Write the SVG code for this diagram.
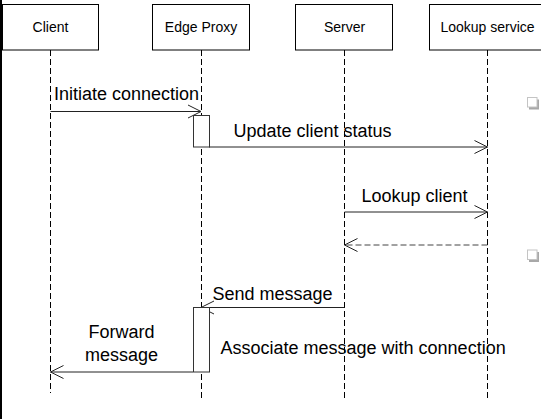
<svg xmlns="http://www.w3.org/2000/svg" width="541" height="419" viewBox="0 0 541 419">
<style>
.box{fill:#fff;stroke:#000;stroke-width:1}
.life{fill:none;stroke:#000;stroke-width:1;stroke-dasharray:6 3}
.lbl{font-family:"Liberation Sans",Arial,sans-serif;font-size:14px;fill:#000;text-anchor:middle}
.msg{font-family:"Liberation Sans",Arial,sans-serif;font-size:18px;fill:#000}
.ln{fill:none;stroke:#222;stroke-width:1}
.dash{stroke-dasharray:6 3;stroke:#444}
.act{fill:#fff;stroke:#333;stroke-width:1}
</style>
<defs>
<marker id="open" viewBox="-15 -8 17 16" refX="0" refY="0" markerWidth="17" markerHeight="16" markerUnits="userSpaceOnUse" orient="auto" overflow="visible">
<path d="M-13,-6.5 L0,0 L-13,6.5" fill="none" stroke="#222" stroke-width="1"/>
</marker>
</defs>
<rect x="0" y="0" width="541" height="419" fill="#fff"/>
<rect x="0" y="0" width="2" height="419" fill="#000"/>
<g id="client">
<rect class="box" x="2.5" y="4.5" width="96" height="45.5"/>
<text class="lbl" x="50.5" y="32">Client</text>
<line class="life" x1="50.5" y1="50" x2="50.5" y2="393"/>
</g>
<g id="edge-proxy">
<rect class="box" x="152.5" y="4.5" width="97" height="45.5"/>
<text class="lbl" x="201" y="32">Edge Proxy</text>
<line class="life" x1="201.5" y1="50" x2="201.5" y2="398"/>
</g>
<g id="server">
<rect class="box" x="295.5" y="4.5" width="97" height="45.5"/>
<text class="lbl" x="344.5" y="32">Server</text>
<line class="life" x1="344.5" y1="50" x2="344.5" y2="398"/>
</g>
<g id="lookup-service">
<rect class="box" x="429.5" y="4.5" width="117" height="45.5"/>
<text class="lbl" x="487.5" y="32">Lookup service</text>
<line class="life" x1="487.5" y1="50" x2="487.5" y2="398"/>
</g>
<g id="connectors">
<line class="ln" x1="50.5" y1="111.5" x2="201" y2="111.5" marker-end="url(#open)"/>
<line class="ln" x1="209" y1="147" x2="487.5" y2="147" marker-end="url(#open)"/>
<line class="ln" x1="344.5" y1="212" x2="487.5" y2="212" marker-end="url(#open)"/>
<line class="ln dash" x1="487.5" y1="245" x2="344.5" y2="245" marker-end="url(#open)"/>
<line class="ln" x1="344.5" y1="307.5" x2="201" y2="307.5" marker-end="url(#open)"/>
<line class="ln" x1="193" y1="372" x2="50.5" y2="372" marker-end="url(#open)"/>
</g>
<g id="activation-1">
<rect class="act" x="193.5" y="115.5" width="16" height="31.5"/>
</g>
<g id="activation-2">
<rect class="act" x="193.5" y="307.5" width="16" height="64.5"/>
</g>
<g id="labels">
<text class="msg" x="54" y="100">Initiate connection</text>
<text class="msg" x="233.5" y="137">Update client status</text>
<text class="msg" x="361.5" y="202">Lookup client</text>
<text class="msg" x="212.5" y="300">Send message</text>
<text class="msg" x="121.5" y="338" text-anchor="middle">Forward</text>
<text class="msg" x="121.5" y="360.5" text-anchor="middle">message</text>
<text class="msg" x="220.5" y="354">Associate message with connection</text>
</g>
<g id="checkbox-1">
<rect x="529" y="99.5" width="10" height="10" fill="#a8a8a8"/>
<rect x="527.5" y="97.5" width="9.5" height="9.5" fill="#fff" stroke="#c4c4c4"/>
</g>
<g id="checkbox-2">
<rect x="529" y="252" width="10" height="10" fill="#a8a8a8"/>
<rect x="527.5" y="250" width="9.5" height="9.5" fill="#fff" stroke="#c4c4c4"/>
</g>
</svg>
